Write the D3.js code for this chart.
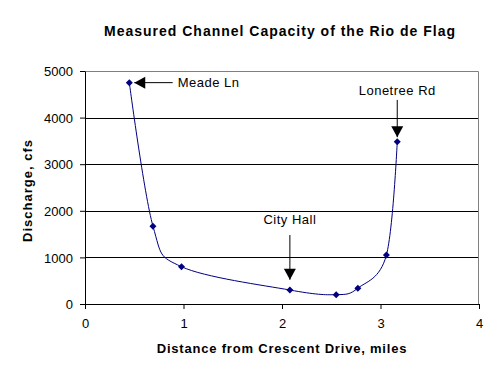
<!DOCTYPE html>
<html>
<head>
<meta charset="utf-8">
<script src="https://cdn.jsdelivr.net/npm/d3@7"></script>
<style>
  body { margin: 0; background: #fff; }
  text { font-family: "Liberation Sans", Arial, sans-serif; }
</style>
</head>
<body>
<script>
// measured points
const distance = [0.45, 0.69, 0.98, 2.08, 2.55, 2.77, 3.06, 3.17]
const discharge = [4750, 1670, 800, 300, 200, 340, 1050, 3480]
const xTicks = [0, 1, 2, 3, 4]
const yTicks = [0, 1000, 2000, 3000, 4000, 5000]

// annotations: label, arrow tip / tail in data units, label gap from tail (px)
const notes = [
    {label: "Meade Ln", dir: "left", tipX: 0.50, tipY: 4750, tailX: 0.89, tailY: 4750, gap: 5},
    {label: "City Hall", dir: "down", tipX: 2.08, tipY: 520, tailX: 2.08, tailY: 1480, gap: 11},
    {label: "Lonetree Rd", dir: "down", tipX: 3.17, tipY: 3580, tailX: 3.17, tailY: 4380, gap: 5}
]

const W = 499, H = 376
const margin = {top: 71, right: 20, bottom: 72, left: 85},
    width = 479 - margin.left,
    height = 304 - margin.top

const svg = d3.select("body").append("svg")
    .attr("width", W)
    .attr("height", H)

const g = svg.append("g")
    .attr("transform", `translate(${margin.left},${margin.top})`)

const x = d3.scaleLinear().domain([0, 4]).range([0, width])
const y = d3.scaleLinear().domain([0, 5000]).range([height, 0])

// gridlines
g.selectAll(".grid")
    .data(yTicks.filter(d => d > 0 && d < 5000))
    .join("line")
    .attr("x1", 0).attr("x2", width)
    .attr("y1", d => Math.round(y(d)) + 0.5).attr("y2", d => Math.round(y(d)) + 0.5)
    .attr("stroke", "#000")

// gray frame top/right
g.append("path")
    .attr("d", `M0,0.5H${width - 0.5}V${height}`)
    .attr("fill", "none")
    .attr("stroke", "#808080")

// axes
const xAxis = g.append("g")
    .attr("transform", `translate(0,${height})`)
    .call(d3.axisBottom(x).tickValues(xTicks).tickFormat(d3.format("d"))
        .tickSize(5).tickPadding(10).tickSizeOuter(0))
const yAxis = g.append("g")
    .call(d3.axisLeft(y).tickValues(yTicks).tickFormat(d3.format("d"))
        .tickSize(5).tickPadding(7).tickSizeOuter(0))

for (const ax of [xAxis, yAxis]) {
    ax.select(".domain").attr("stroke", "#000")
    ax.selectAll(".tick line").attr("stroke", "#000")
    ax.selectAll(".tick text")
        .attr("font-size", 13)
        .attr("font-family", "Liberation Sans, Arial, sans-serif")
        .attr("fill", "#000")
}
yAxis.selectAll(".tick text").attr("dy", "0.36em")

// curve
const pts = distance.map((d, i) => [d, discharge[i]])
g.append("path")
    .datum(pts)
    .attr("fill", "none")
    .attr("stroke", "#000080")
    .attr("stroke-width", 1)
    .attr("d", d3.line()
        .curve(d3.curveCardinal.tension(0))
        .x(d => x(d[0]))
        .y(d => y(d[1])))

// diamond markers
g.selectAll(".pt")
    .data(pts)
    .join("path")
    .attr("transform", d => `translate(${x(d[0])},${y(d[1])})`)
    .attr("d", "M0,-3.5L3.5,0L0,3.5L-3.5,0Z")
    .attr("fill", "#000080")

// annotations
const ann = g.selectAll(".note")
    .data(notes)
    .join("g")

ann.append("line")
    .attr("x1", d => x(d.tailX)).attr("y1", d => y(d.tailY))
    .attr("x2", d => x(d.tipX)).attr("y2", d => y(d.tipY))
    .attr("stroke", "#000")

ann.append("path")
    .attr("transform", d => `translate(${x(d.tipX)},${y(d.tipY)})`)
    .attr("d", d => d.dir === "left" ? "M0,0L11,-6L11,6Z" : "M0,0L-6,-11L6,-11Z")
    .attr("fill", "#000")

ann.append("text")
    .attr("x", d => d.dir === "left" ? x(d.tailX) + d.gap : x(d.tailX))
    .attr("y", d => d.dir === "left" ? y(d.tailY) : y(d.tailY) - d.gap)
    .attr("dy", d => d.dir === "left" ? "0.36em" : 0)
    .attr("text-anchor", d => d.dir === "left" ? "start" : "middle")
    .attr("font-size", 13)
    .attr("letter-spacing", 0.5)
    .text(d => d.label)

// titles
svg.append("text")
    .attr("x", 280).attr("y", 36)
    .attr("text-anchor", "middle")
    .attr("font-size", 14)
    .attr("font-weight", "bold")
    .attr("letter-spacing", 1)
    .text("Measured Channel Capacity of the Rio de Flag")

svg.append("text")
    .attr("x", margin.left + width / 2).attr("y", 353)
    .attr("text-anchor", "middle")
    .attr("font-size", 13)
    .attr("font-weight", "bold")
    .attr("letter-spacing", 0.8)
    .text("Distance from Crescent Drive, miles")

svg.append("text")
    .attr("transform", `translate(32,${margin.top + height / 2 + 3}) rotate(-90)`)
    .attr("text-anchor", "middle")
    .attr("font-size", 13)
    .attr("font-weight", "bold")
    .attr("letter-spacing", 1)
    .text("Discharge, cfs")
</script>
</body>
</html>
